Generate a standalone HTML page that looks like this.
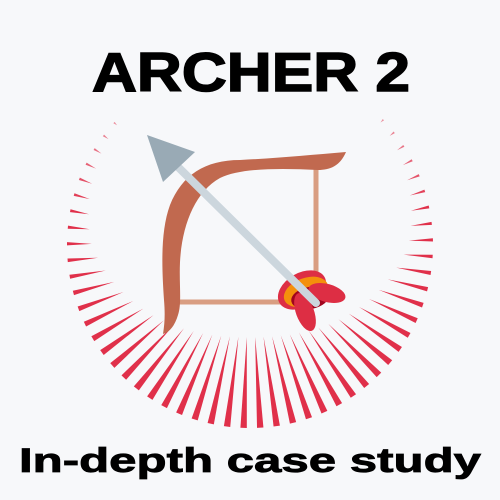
<!DOCTYPE html>
<html><head><meta charset="utf-8">
<style>
html,body{margin:0;padding:0;background:#f7f8fa;}
svg{display:block;}
</style></head>
<body>
<svg width="500" height="500" viewBox="0 0 500 500">
<rect width="500" height="500" fill="#f7f8fa"/>
<text x="251" y="91" text-anchor="middle" font-family="Liberation Sans, sans-serif" font-weight="bold" font-size="55" textLength="318" lengthAdjust="spacingAndGlyphs" fill="#000" stroke="#000" stroke-width="1.5">ARCHER 2</text>
<g id="rays"></g>
<g>
<path d="M316 158 L316 300 M168 302 L292 302" stroke="#d99e82" stroke-width="5" stroke-linecap="round" fill="none"/>
<path d="M346 152 C340 166 330 170 318 170 C280 168 240 168 220 178 C195 192 182 225 180 262 C179 285 182 303 178 315 C175 325 170 332 163 334 C165 322 165 312 164 300 C162 270 160 232 170 205 C182 175 205 160 240 160 C280 158 310 155 346 152 Z" fill="#c1694f"/>
<g>
<ellipse cx="302" cy="290" rx="26" ry="17" transform="rotate(-30 302 290)" fill="#dd2e44"/>
<ellipse cx="306" cy="292" rx="23" ry="14" transform="rotate(-20 306 292)" fill="#f4900c"/>
<ellipse cx="310" cy="298" rx="19" ry="11" transform="rotate(-10 310 298)" fill="#a0041e"/>
<ellipse cx="327" cy="293" rx="19" ry="9" transform="rotate(15 327 293)" fill="#dd2e44"/>
<ellipse cx="305" cy="312" rx="9" ry="20" transform="rotate(-20 305 312)" fill="#dd2e44"/>
</g>
<line x1="173" y1="162" x2="316" y2="303" stroke="#ccd6dd" stroke-width="8" stroke-linecap="round"/>
<polygon points="147,135 195,152 163,182" fill="#99aab5"/>
</g>
<text x="250" y="472" text-anchor="middle" font-family="Liberation Sans, sans-serif" font-weight="bold" font-size="34" textLength="462" lengthAdjust="spacingAndGlyphs" fill="#000" stroke="#000" stroke-width="0.8">In-depth case study</text>
</svg>
<script>
const rayAngles = [];
for (let a = -132; a <= 136; a += 5.2) rayAngles.push(a);
const g = document.getElementById('rays');
const cx = 250, cy = 245, R = 183;
rayAngles.forEach(function(deg){
  const t = deg * Math.PI / 180;
  const c = Math.cos(t);
  let L = c >= 0 ? 25 + 66 * c : Math.max(4, 25 * (1 + c / 0.8));
  const dx = Math.sin(t), dy = Math.cos(t);
  const ox = cx + dx * R, oy = cy + dy * R;
  const ix = cx + dx * (R - L), iy = cy + dy * (R - L);
  const px = -dy, py = dx;
  const w = 0.8 + 2.4 * Math.min(1, L / 70);
  const p = document.createElementNS('http://www.w3.org/2000/svg', 'polygon');
  p.setAttribute('points', [ix, iy, ox + px * w, oy + py * w, ox - px * w, oy - py * w].join(','));
  p.setAttribute('fill', '#e0304a');
  p.setAttribute('opacity', c >= -0.2 ? 1 : Math.max(0.25, 1 + (c + 0.2)));
  
  
  g.appendChild(p);
});
</script>
</body></html>
